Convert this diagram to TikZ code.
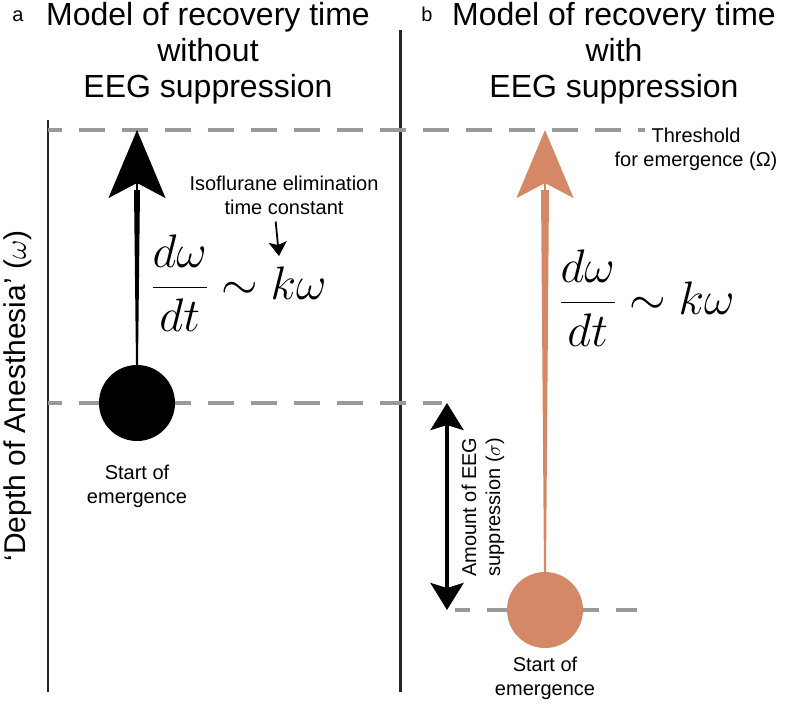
\RequirePackage{fix-cm}
\documentclass[tikz,border=0pt]{standalone}
\usepackage{amsmath}
\usepackage{fontspec}
\setmainfont{Liberation Sans}
\usetikzlibrary{arrows.meta,positioning,calc}
\definecolor{emerge}{RGB}{212,136,102}
\definecolor{guidegray}{RGB}{153,153,153}
\tikzstyle{guide} = [draw=guidegray, line width=4pt, dash pattern=on 26pt off 17pt]
\tikzstyle{ball} = [circle, inner sep=0pt, minimum size=76pt]
\tikzstyle{note} = [inner sep=0pt, align=center, font=\fontsize{20}{24}\selectfont]
\tikzstyle{title} = [inner sep=0pt, align=center, font=\fontsize{32}{36}\selectfont]
\tikzstyle{eqn} = [inner sep=0pt, font=\fontsize{47}{54}\selectfont]
\tikzstyle{rise} = [line width=2pt, -{Stealth[length=68pt,width=57pt,inset=15pt]}]

\begin{document}
\begin{tikzpicture}[x=1pt, y=-1pt]
\useasboundingbox (0,0) rectangle (787,704);

% panel frames
\draw [line width=2pt, black!85] (48,120) -- (48,692);
\draw [line width=3pt, black!85] (400,30) -- (400,692);

% guide lines
\coordinate (tipA) at (137,130);
\coordinate (tipB) at (545,130);
\draw [guide, dash phase=12pt] (48,130) -- (645,130);
\draw [guide, dash phase=12pt] (48,403) -- (442,403);
\draw [guide, dash phase=11pt] (455,610) -- (637,610);

% titles
\node [note, anchor=base] (labA) at (18,21) {a};
\node [note, anchor=base] (labB) at (427,21) {b};
\node [title, anchor=north] (titleA) at (208,2) {Model of recovery time\\without\\EEG suppression};
\node [title, anchor=north] (titleB) at (614,2) {Model of recovery time\\with\\EEG suppression};
\node [rotate=90, inner sep=0pt, font=\fontsize{30}{36}\selectfont] (depthLab) at (18,396) {‘Depth of Anesthesia’ ($\omega$)};

% panel a
\node [ball, fill=black] (startA) at (137,403) {};
\node [note, below=24pt of startA] (startTxtA) {Start of\\emergence};
\fill ($(startA.north)+(-1,0)$) -- ($(tipA)+(-3,60)$) -- ($(tipA)+(3,60)$) -- ($(startA.north)+(1,0)$) -- cycle;
\draw [rise] (startA) -- (tipA);
\node [eqn] (rateA) at (239,283) {$\displaystyle\frac{d\omega}{dt}\sim k\omega$};
\node [note] (isoNote) at (284,195) {Isoflurane elimination\\time constant};
\coordinate (kArrow) at (279,256);
\draw [line width=1.8pt, -{Stealth[length=14pt,width=18pt,inset=3pt]}, shorten <=7pt] ([xshift=-9pt]isoNote.south) -- (kArrow);

% panel b
\node [ball, fill=emerge] (startB) at (545,610) {};
\node [note, below=9pt of startB] (startTxtB) {Start of\\emergence};
\fill [emerge] ($(startB.north)+(-1,0)$) -- ($(tipB)+(-4,60)$) -- ($(tipB)+(4,60)$) -- ($(startB.north)+(1,0)$) -- cycle;
\draw [rise, emerge] (startB) -- (tipB);
\node [eqn] (rateB) at (647,298) {$\displaystyle\frac{d\omega}{dt}\sim k\omega$};
\node [note] (threshNote) at (696,149) {Threshold\\for emergence (Ω)};
\coordinate (supTop) at (447,403);
\coordinate (supBot) at (447,610);
\draw [line width=4pt, {Stealth[length=27pt,width=33pt,inset=5pt]}-{Stealth[length=27pt,width=33pt,inset=5pt]}] (supTop) -- (supBot);
\node [note, rotate=90, align=center] (amtNote) at (483,507) {Amount of EEG\\suppression ($\sigma$)};
\end{tikzpicture}
\end{document}
